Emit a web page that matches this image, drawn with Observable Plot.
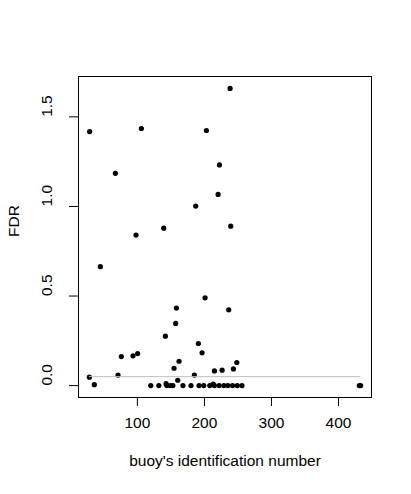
<!DOCTYPE html>
<html>
<head>
<meta charset="utf-8">
<script src="https://cdn.jsdelivr.net/npm/d3@7"></script>
<script src="https://cdn.jsdelivr.net/npm/@observablehq/plot@0.6"></script>
<style>
  html, body { margin: 0; padding: 0; background: #fff; }
</style>
</head>
<body>
<div id="chart"></div>
<script>
// buoy identification numbers
const buoyId = [
  238.3, 28.8, 106, 203, 222.4, 67.2, 220.4, 187, 139.3, 239.3,
  98, 44.8, 201, 158.2, 236.3, 157.2, 141.8, 191, 196.5, 76.1,
  93.5, 100.4, 162.2, 248.3, 154.7, 215, 226.4, 243.3, 28.4, 71.2,
  185, 160.2, 35.8, 142.8, 213,
  120, 132, 144, 149, 153, 168, 180, 192, 199, 208, 215, 222, 229, 235, 242, 249, 256, 431, 433
];
// false discovery rate per buoy
const fdr = [
  1.659, 1.418, 1.435, 1.424, 1.232, 1.185, 1.067, 1.002, 0.879, 0.890,
  0.840, 0.664, 0.490, 0.433, 0.423, 0.347, 0.276, 0.235, 0.183, 0.162,
  0.166, 0.179, 0.136, 0.129, 0.097, 0.082, 0.086, 0.093, 0.047, 0.059,
  0.059, 0.030, 0.005, 0.011, 0.009,
  0, 0, 0, 0, 0, 0, 0, 0, 0, 0, 0, 0, 0, 0, 0, 0, 0, 0, 0
];
const threshold = 0.05;
const xTicks = [100, 200, 300, 400];
const yTicks = [0, 0.5, 1.0, 1.5];
const xTitle = "buoy's identification number";
const yTitle = "FDR";

const data = buoyId.map((x, i) => ({x, y: fdr[i]}));
const xMin = d3.min(buoyId), xMax = d3.max(buoyId);
const yMin = d3.min(fdr), yMax = d3.max(fdr);
const xPad = (xMax - xMin) * 0.04, yPad = (yMax - yMin) * 0.04;

const font = "Liberation Sans, Arial, Helvetica, sans-serif";
const fs = 15.5;

const chart = Plot.plot({
  width: 411,
  height: 494,
  marginLeft: 78,
  marginRight: 40,
  marginTop: 76,
  marginBottom: 97,
  style: {fontFamily: font, fontSize: fs + "px", color: "black", background: "white"},
  x: {domain: [xMin - xPad, xMax + xPad], label: null},
  y: {domain: [yMin - yPad, yMax + yPad], label: null},
  marks: [
    Plot.axisX({ticks: xTicks, tickSize: 9, tickFormat: () => "", label: null, stroke: "black"}),
    Plot.axisY({ticks: yTicks, tickSize: 9, tickFormat: () => "", label: null, stroke: "black"}),
    Plot.text(xTicks, {x: d => d, frameAnchor: "bottom", dy: 30, text: d => String(d), fontSize: fs, fill: "black"}),
    Plot.text(yTicks, {y: d => d, frameAnchor: "left", dx: -31, rotate: -90, text: d => d.toFixed(1), fontSize: fs, fill: "black"}),
    Plot.text([xTitle], {frameAnchor: "bottom", dy: 68, text: d => d, fontSize: fs, fill: "black"}),
    Plot.text([yTitle], {frameAnchor: "left", dx: -64, rotate: -90, text: d => d, fontSize: fs, fill: "black"}),
    Plot.dot(data, {x: "x", y: "y", r: 2.6, fill: "black", stroke: null}),
    Plot.ruleY([threshold], {x1: xMin, x2: xMax, stroke: "#bebebe", strokeWidth: 1}),
    Plot.frame({stroke: "black", strokeWidth: 1})
  ]
});
document.getElementById("chart").appendChild(chart);
</script>
</body>
</html>
